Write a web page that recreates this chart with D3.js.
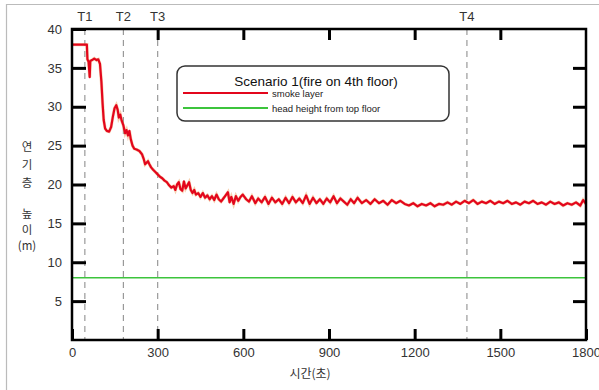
<!DOCTYPE html>
<html>
<head>
<meta charset="utf-8">
<script src="https://cdn.jsdelivr.net/npm/d3@7"></script>
<style>
  body { margin: 0; background: #fff; }
  text { font-family: "Liberation Sans", Arial, sans-serif; fill: #333; }
  .kr { font-family: "Noto Sans CJK KR", sans-serif; }
</style>
</head>
<body>
<div id="chart"><svg></svg></div>
<script>
// the data
var xTicks = [0, 300, 600, 900, 1200, 1500, 1800];
var yTicks = [5, 10, 15, 20, 25, 30, 35, 40];
var markTimes = [45, 180, 300, 1383];
var markLabels = ["T1", "T2", "T3", "T4"];
var headHeight = 8;
var legendTitle = "Scenario 1(fire on 4th floor)";
var legendLabels = ["smoke layer", "head height from top floor"];

// [time (s), smoke layer height (m)]
var smokeLayer = [
  [0,38],[52,38],[54,36.1],[58,35.8],[62,33.8],[64,35.9],[70,36],[78,36.2],[86,36],[92,36.1],
  [98,35.5],[103,33.2],[107,30.5],[111,28.3],[116,27.2],[122,26.9],[130,26.8],[137,27.4],[143,28.7],[149,29.8],
  [155,30.2],[160,29.6],[164,28.6],[169,29],[174,28.2],[180,27.6],[186,26.6],[191,27],[196,26.3],[201,26.9],
  [206,25.8],[212,25],[218,24.6],[226,24.5],[236,24.3],[245,23.9],[251,23.3],[256,22.6],[261,22.8],[266,23],
  [271,22.6],[277,22.2],[284,21.9],[292,21.6],[300,21.3],[308,21],[316,20.8],[324,20.5],[332,20.3],[340,19.9],
  [348,19.6],[356,19.8],[362,19.3],[368,20],[374,20.3],[380,19.4],[386,19.2],[392,20.4],[398,19.5],[404,19.9],
  [410,20.3],[416,19.3],[422,18.9],[428,19.3],[434,18.7],[442,18.9],[450,18.4],[458,18.9],[466,18.3],[474,18.6],
  [482,18.1],[490,18.5],[498,18],[506,18.7],[514,18.1],[522,17.8],[530,18.2],[538,18.6],[546,19],[552,17.7],
  [558,18.4],[566,17.5],[574,18.5],[582,17.9],[590,18.4],[598,18.7],
  [610,18.1],[620,17.8],[630,18.5],[642,17.6],[652,18.2],[664,17.7],[676,18.4],[688,17.5],[700,18.3],[712,17.7],
  [724,18.1],[736,17.5],[748,18.3],[760,17.6],[772,18.4],[784,17.7],[796,18.2],[808,17.6],[820,18.6],[832,17.5],
  [844,18.3],[856,17.6],[868,18.1],[880,17.5],[892,18.2],[904,17.7],[916,18.5],[928,17.6],[940,18.2],[952,17.8],
  [964,17.4],[976,18.1],[988,17.6],[1000,18.3],[1015,17.6],[1030,18],[1045,17.5],[1060,18.1],[1075,17.6],[1090,17.9],
  [1105,17.4],[1120,18],[1135,17.6],[1150,17.9],[1165,17.5],[1180,17.3],[1195,17.6],
  [1210,17.2],[1225,17.5],[1240,17.3],[1255,17.6],[1270,17.2],[1285,17.5],[1300,17.4],[1315,17.7],[1330,17.4],[1345,17.8],
  [1360,17.5],[1375,17.9],[1390,17.6],[1405,18],[1420,17.5],[1435,17.8],[1450,17.6],[1465,17.9],[1480,17.5],[1495,17.8],
  [1510,17.6],[1525,17.9],[1540,17.5],[1555,17.7],[1570,17.4],[1585,17.8],[1600,17.6],[1615,17.9],[1630,17.5],[1645,17.7],
  [1660,17.4],[1675,17.8],[1690,17.5],[1705,17.7],[1720,17.3],[1735,17.6],[1750,17.4],[1765,17.7],[1780,17.3],[1790,18],
  [1800,17.5]
];

// set the dimensions and margins of the graph
var margin = {top: 29, right: 13, bottom: 50, left: 72},
    width = 599 - margin.left - margin.right,
    height = 390 - margin.top - margin.bottom;

// set the ranges
var x = d3.scaleLinear().domain([0, 1800]).range([0, width]);
var y = d3.scaleLinear().domain([0, 40]).range([height, 0]);

var root = d3.select("#chart > svg")
    .attr("width", 599)
    .attr("height", 390);

// outer frame (top and left only are visible)
root.append("path")
    .attr("d", "M6.5,390 V4.5 H599")
    .style("fill", "none")
    .style("stroke", "#bbb")
    .style("stroke-width", 1.2);

var svg = root.append("g")
    .attr("transform", "translate(" + margin.left + "," + margin.top + ")");

// vertical dashed event lines
svg.selectAll(".mark")
    .data(markTimes)
  .enter().append("line")
    .attr("class", "mark")
    .attr("x1", function(d) { return x(d); })
    .attr("x2", function(d) { return x(d); })
    .attr("y1", 0)
    .attr("y2", height)
    .style("stroke", "#999")
    .style("stroke-width", 1.2)
    .style("stroke-dasharray", "6,5");

svg.selectAll(".markLabel")
    .data(markTimes)
  .enter().append("text")
    .attr("x", function(d) { return x(d); })
    .attr("y", -8)
    .attr("text-anchor", "middle")
    .style("font-size", "13px")
    .text(function(d, i) { return markLabels[i]; });

// head height line
svg.append("line")
    .attr("x1", x(0))
    .attr("x2", x(1800))
    .attr("y1", y(headHeight))
    .attr("y2", y(headHeight))
    .style("stroke", "#3cc43c")
    .style("stroke-width", 1.5);

// smoke layer line
var valueline = d3.line()
    .x(function(d) { return x(d[0]); })
    .y(function(d) { return y(d[1]); });

svg.append("path")
    .data([smokeLayer])
    .attr("d", valueline)
    .style("fill", "none")
    .style("stroke", "#f0a060")
    .style("stroke-width", 3.2)
    .style("stroke-opacity", 0.5);

svg.append("path")
    .data([smokeLayer])
    .attr("d", valueline)
    .style("fill", "none")
    .style("stroke", "#e3061c")
    .style("stroke-width", 2.2)
    .style("stroke-linejoin", "round");

// axes
svg.append("g")
    .attr("transform", "translate(0," + height + ")")
    .call(d3.axisBottom(x).tickValues(xTicks).tickSize(-11).tickPadding(8).tickFormat(d3.format("d")));

svg.append("g")
    .call(d3.axisLeft(y).tickValues(yTicks).tickSize(-14).tickPadding(10));

svg.append("g")
    .call(d3.axisTop(x).tickValues(xTicks.slice(1, -1)).tickSize(-11).tickFormat(""));

svg.append("g")
    .attr("transform", "translate(" + width + ",0)")
    .call(d3.axisRight(y).tickValues(yTicks.slice(0, -1)).tickSize(-13).tickFormat(""));

svg.selectAll(".domain").remove();
svg.selectAll(".tick line")
    .style("stroke", "#000")
    .style("stroke-width", 3);
svg.selectAll(".tick text")
    .style("font-size", "13px")
    .style("font-family", "'Liberation Sans', Arial, sans-serif")
    .style("fill", "#333");

// plot frame
svg.append("rect")
    .attr("width", width)
    .attr("height", height)
    .style("fill", "none")
    .style("stroke", "#000")
    .style("stroke-width", 2.5);

// axis titles
var yTitle = ["연", "기", "층", "", "높", "이", "(m)"];
var yTitleY = [147, 165, 183, 0, 214, 230, 246];
root.selectAll(".ytitle")
    .data(yTitle)
  .enter().append("text")
    .attr("class", "kr")
    .attr("x", 27)
    .attr("y", function(d, i) { return yTitleY[i] + 4; })
    .attr("text-anchor", "middle")
    .style("font-size", "11.5px")
    .text(function(d) { return d; });

root.append("text")
    .attr("class", "kr")
    .attr("x", 310)
    .attr("y", 378)
    .attr("text-anchor", "middle")
    .style("font-size", "12px")
    .text("시간(초)");

// legend
var legend = root.append("g");

legend.append("rect")
    .attr("x", 177)
    .attr("y", 66)
    .attr("width", 272)
    .attr("height", 55)
    .attr("rx", 8)
    .style("fill", "#fff")
    .style("stroke", "#333")
    .style("stroke-width", 1.5);

legend.append("text")
    .attr("x", 316)
    .attr("y", 86)
    .attr("text-anchor", "middle")
    .style("font-size", "13.5px")
    .style("fill", "#111")
    .text(legendTitle);

var legendColors = ["#e3061c", "#3cc43c"];
legendLabels.forEach(function(label, i) {
  var ly = 93 + i * 15;
  legend.append("line")
      .attr("x1", 183)
      .attr("x2", 268)
      .attr("y1", ly)
      .attr("y2", ly)
      .style("stroke", legendColors[i])
      .style("stroke-width", i === 0 ? 2.2 : 1.8);
  legend.append("text")
      .attr("x", 272)
      .attr("y", ly + 3.5)
      .style("font-size", "9.5px")
      .style("fill", "#222")
      .text(label);
});
</script>
</body>
</html>
